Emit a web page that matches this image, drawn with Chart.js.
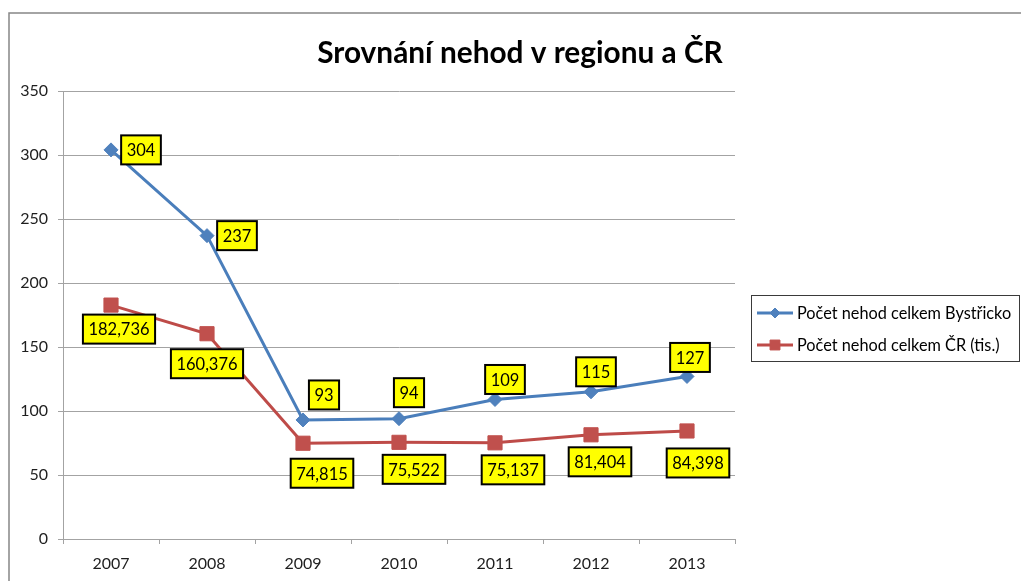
<!DOCTYPE html>
<html>
<head>
<meta charset="utf-8">
<script src="https://cdn.jsdelivr.net/npm/chart.js@4"></script>
<style>
  body { margin: 0; background: #fff; }
  #wrap { width: 1021px; height: 581px; }
</style>
</head>
<body>
<div id="wrap"><canvas id="myChart" width="1021" height="581"></canvas></div>
<script>
const years = ['2007', '2008', '2009', '2010', '2011', '2012', '2013'];
const bystricko = [304, 237, 93, 94, 109, 115, 127];
const crTis = [182.736, 160.376, 74.815, 75.522, 75.137, 81.404, 84.398];
const yTicks = [0, 50, 100, 150, 200, 250, 300, 350];

const titleText = 'Srovnání nehod v regionu a ČR';
const seriesNames = ['Počet nehod celkem Bystřicko', 'Počet nehod celkem ČR (tis.)'];

// where each yellow label box sits relative to its point (box centre)
const labelShift = [
  [[30, 0], [30, 0], [21, -25], [10, -26], [10, -20], [5, -20], [3, -19]],
  [[8, 24], [0, 30], [19, 30], [15, 27], [18, 27], [9, 27], [11, 32]],
];

const FONT = 'Lato, "Open Sans", sans-serif';
const gridColor = '#a3a3a3';

const frame = {
  id: 'frame',
  beforeDraw(chart) {
    const ctx = chart.ctx;
    ctx.save();
    ctx.fillStyle = '#fff';
    ctx.fillRect(0, 0, chart.width, chart.height);
    ctx.strokeStyle = '#878787';
    ctx.lineWidth = 1.5;
    ctx.strokeRect(9, 13, chart.width + 20, chart.height + 20);
    ctx.restore();
  },
};

const titlePlugin = {
  id: 'titlePlugin',
  afterDraw(chart) {
    const ctx = chart.ctx;
    ctx.save();
    ctx.font = 'bold 30px ' + FONT;
    const w = ctx.measureText(titleText).width;
    const size = 30 * 405 / w;
    ctx.font = 'bold ' + size.toFixed(1) + 'px ' + FONT;
    ctx.fillStyle = '#000';
    ctx.textAlign = 'center';
    ctx.textBaseline = 'alphabetic';
    ctx.fillText(titleText, 520, 63);
    ctx.restore();
  },
};

const boxLabels = {
  id: 'boxLabels',
  afterDatasetsDraw(chart) {
    const ctx = chart.ctx;
    ctx.save();
    ctx.font = '16.5px ' + FONT;
    ctx.textAlign = 'center';
    ctx.textBaseline = 'middle';
    chart.data.datasets.forEach((ds, di) => {
      const meta = chart.getDatasetMeta(di);
      meta.data.forEach((pt, i) => {
        const v = ds.data[i];
        const txt = di === 0 ? String(v) : v.toFixed(3).replace('.', ',');
        const tw = ctx.measureText(txt).width;
        const bw = tw + 11;
        const bh = 29;
        const cx = pt.x + labelShift[di][i][0];
        const cy = pt.y + labelShift[di][i][1];
        ctx.fillStyle = '#ffff00';
        ctx.fillRect(cx - bw / 2, cy - bh / 2, bw, bh);
        ctx.strokeStyle = '#000';
        ctx.lineWidth = 2;
        ctx.strokeRect(cx - bw / 2, cy - bh / 2, bw, bh);
        ctx.fillStyle = '#000';
        ctx.fillText(txt, cx, cy + 1);
      });
    });
    ctx.restore();
  },
};

const sideLegend = {
  id: 'sideLegend',
  afterDraw(chart) {
    const ctx = chart.ctx;
    ctx.save();
    ctx.strokeStyle = '#3a3a3a';
    ctx.lineWidth = 1;
    ctx.strokeRect(751.5, 295.5, 268, 66);
    const rows = [313, 345];
    const marks = [
      { pointStyle: 'rectRot', radius: 5, borderWidth: 1, rotation: 0 },
      { pointStyle: 'rect', radius: 7, borderWidth: 1, rotation: 0 },
    ];
    chart.data.datasets.forEach((ds, di) => {
      const y = rows[di];
      ctx.strokeStyle = ds.borderColor;
      ctx.lineWidth = 3;
      ctx.beginPath();
      ctx.moveTo(757, y);
      ctx.lineTo(793, y);
      ctx.stroke();
      ctx.fillStyle = ds.pointBackgroundColor;
      ctx.strokeStyle = ds.pointBorderColor;
      ctx.lineWidth = 1;
      Chart.helpers.drawPoint(ctx, marks[di], 775, y);
      ctx.fillStyle = '#000';
      ctx.font = '16.3px ' + FONT;
      ctx.textAlign = 'left';
      ctx.textBaseline = 'middle';
      ctx.fillText(seriesNames[di], 797, y + 1);
    });
    ctx.restore();
  },
};

const ctx = document.getElementById('myChart');

let chart = new Chart(ctx, {
  type: 'line',
  data: {
    labels: years,
    datasets: [
      {
        label: seriesNames[0],
        data: bystricko,
        borderColor: '#4a7ebb',
        borderWidth: 3,
        pointStyle: 'rectRot',
        pointRadius: 7,
        pointBackgroundColor: '#4f81bd',
        pointBorderColor: '#4f81bd',
        pointBorderWidth: 1,
        tension: 0,
      },
      {
        label: seriesNames[1],
        data: crTis,
        borderColor: '#be4b48',
        borderWidth: 3,
        pointStyle: 'rect',
        pointRadius: 10,
        pointBackgroundColor: '#c0504d',
        pointBorderColor: '#c0504d',
        pointBorderWidth: 1,
        tension: 0,
      },
    ],
  },
  options: {
    responsive: false,
    animation: false,
    events: [],
    layout: {
      padding: { top: 91, right: 286, left: 0, bottom: 0 },
    },
    plugins: {
      legend: { display: false },
      title: { display: false },
      tooltip: { enabled: false },
    },
    scales: {
      y: {
        min: 0,
        max: 350,
        afterBuildTicks(scale) {
          scale.ticks = yTicks.map((v) => ({ value: v }));
        },
        afterFit(scale) {
          scale.width = 63;
        },
        ticks: {
          padding: 10,
          color: '#1e1e1e',
          font: { family: FONT, size: 16 },
        },
        grid: {
          color: gridColor,
          tickLength: 5,
        },
        border: { color: gridColor },
      },
      x: {
        offset: true,
        afterFit(scale) {
          scale.height = 42;
        },
        ticks: {
          padding: 10,
          color: '#1e1e1e',
          font: { family: FONT, size: 16 },
        },
        grid: {
          offset: true,
          drawOnChartArea: false,
          color: gridColor,
          tickLength: 5,
        },
        border: { color: gridColor },
      },
    },
  },
  plugins: [frame, titlePlugin, boxLabels, sideLegend],
});
</script>
</body>
</html>
